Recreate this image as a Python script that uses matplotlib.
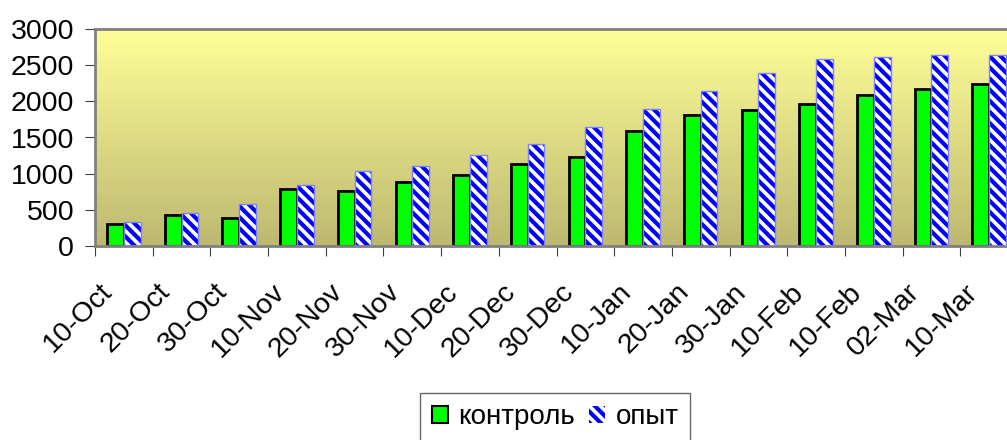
import numpy as np
import matplotlib.pyplot as plt
from matplotlib.patches import Patch
from matplotlib.colors import LinearSegmentedColormap
from matplotlib.transforms import ScaledTranslation

plt.rcParams['font.family'] = ['Liberation Sans', 'DejaVu Sans']
plt.rcParams['hatch.linewidth'] = 3.0

dates = ['10-Oct', '20-Oct', '30-Oct', '10-Nov', '20-Nov', '30-Nov', '10-Dec', '20-Dec',
         '30-Dec', '10-Jan', '20-Jan', '30-Jan', '10-Feb', '10-Feb', '02-Mar', '10-Mar']
kontrol = [305, 430, 390, 790, 765, 890, 975, 1130, 1230, 1595, 1810, 1875, 1965, 2085, 2175, 2235]
opyt = [330, 450, 580, 850, 1035, 1100, 1255, 1405, 1650, 1900, 2145, 2395, 2580, 2610, 2640, 2640]

fig = plt.figure(figsize=(10.07, 4.40), dpi=100)
ax = fig.add_axes([95 / 1007, 194 / 440, 923 / 1007, 217 / 440])

# gradient background, light yellow at top to olive at bottom
cmap = LinearSegmentedColormap.from_list('bg', ['#BDB870', '#FFFF99'])
ax.imshow(np.linspace(0, 1, 256).reshape(-1, 1), cmap=cmap, aspect='auto',
          extent=[-0.5, len(dates) - 0.5, 0, 3000], origin='lower', zorder=0)

x = np.arange(len(dates))
w = 0.29
ax.bar(x - w / 2, kontrol, w, color='#00FF00', edgecolor='black', linewidth=2, zorder=2)
ax.bar(x + w / 2, opyt, w, color='white', edgecolor='#0000FF', hatch='\\\\\\',
       linewidth=0, zorder=2)
ax.bar(x + w / 2, opyt, w, fill=False, edgecolor='#8080FF', linewidth=1, zorder=3)

ax.set_xlim(-0.5, len(dates) - 0.5)
ax.set_ylim(0, 3000)
ax.set_yticks(range(0, 3001, 500))
ax.tick_params(axis='y', labelsize=20.5, length=7, color='#404040', pad=8)

ax.set_xticks(np.arange(len(dates) + 1) - 0.5)
ax.set_xticklabels([])
ax.tick_params(axis='x', length=7, color='#404040')
ax.set_xticks(x, minor=True)
ax.set_xticklabels(dates, minor=True, rotation=45, ha='right', rotation_mode='anchor',
                   fontsize=20.5)
ax.tick_params(axis='x', which='minor', length=0, pad=12)
shift = ScaledTranslation(-0.25, -0.16, fig.dpi_scale_trans)
for lab in ax.get_xticklabels(minor=True):
    lab.set_transform(lab.get_transform() + shift)

for s in ['top', 'left', 'bottom']:
    ax.spines[s].set_color('#808080')
    ax.spines[s].set_linewidth(2)
ax.spines['right'].set_visible(False)

handles = [Patch(facecolor='#00FF00', edgecolor='black', linewidth=1.5, label='контроль'),
           Patch(facecolor='white', edgecolor='#0000FF', hatch='\\\\\\', linewidth=0, label='опыт')]
leg = fig.legend(handles=handles, loc='upper center', bbox_to_anchor=(555 / 1007, 1 - 393 / 440),
                 ncol=2, fontsize=20, frameon=True, fancybox=False, handlelength=0.6,
                 handleheight=0.6, handletextpad=0.36, columnspacing=0.5, borderpad=0.4,
                 borderaxespad=0)
leg.get_frame().set_edgecolor('#404040')
leg.get_frame().set_linewidth(1)

fig.savefig('out.png', dpi=100)
